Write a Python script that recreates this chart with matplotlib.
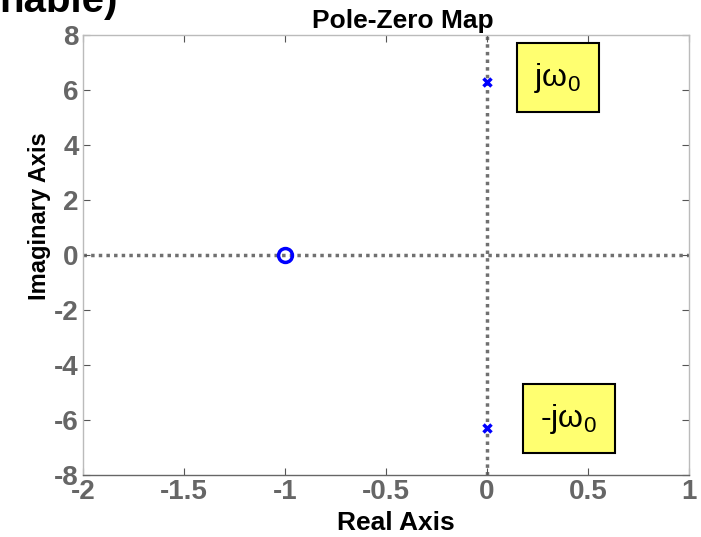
import matplotlib.pyplot as plt

# pole-zero data
zeros_re = [-1.0]
zeros_im = [0.0]
poles_re = [0.0, 0.0]
poles_im = [6.283, -6.283]

x_ticks = [-2, -1.5, -1, -0.5, 0, 0.5, 1]
x_tick_labels = ["-2", "-1.5", "-1", "-0.5", "0", "0.5", "1"]
y_ticks = [-8, -6, -4, -2, 0, 2, 4, 6, 8]

annotations = [("jω$_0$", 0.35, 6.44), ("-jω$_0$", 0.405, -5.95)]

plt.rcParams["font.family"] = ["Liberation Sans", "DejaVu Sans"]
plt.rcParams["mathtext.fontset"] = "custom"
plt.rcParams["mathtext.rm"] = "Liberation Sans"
plt.rcParams["mathtext.it"] = "Liberation Sans"
plt.rcParams["axes.unicode_minus"] = False

fig = plt.figure(figsize=(7.01, 5.37), dpi=100)
ax = fig.add_axes([83 / 701, 62 / 537, 606 / 701, 440 / 537])

ax.axhline(0, color="#707070", linestyle=(0, (1, 1.2)), linewidth=2.5, zorder=1)
ax.axvline(0, color="#707070", linestyle=(0, (1, 1.2)), linewidth=2.5, zorder=1)

ax.plot(zeros_re, zeros_im, linestyle="none", marker="o", markersize=10,
        markerfacecolor="none", markeredgecolor="blue", markeredgewidth=2.5, zorder=3)
ax.plot(poles_re, poles_im, linestyle="none", marker="x", markersize=6,
        color="blue", markeredgewidth=2.5, zorder=3)

for label, x, y in annotations:
    ax.text(x, y, label, fontsize=23, ha="center", va="center",
            bbox=dict(boxstyle="square,pad=0.55", facecolor="#ffff70",
                      edgecolor="black", linewidth=1.5))

ax.set_xlim(-2, 1)
ax.set_ylim(-8, 8)
ax.set_xticks(x_ticks)
ax.set_xticklabels(x_tick_labels)
ax.set_yticks(y_ticks)
ax.tick_params(direction="in", length=5, width=0.8, color="#555555",
               labelsize=20, labelcolor="#666666", top=True, right=True, pad=3)
for lbl in ax.get_xticklabels() + ax.get_yticklabels():
    lbl.set_fontweight("bold")
for s in ax.spines.values():
    s.set_color("#bbbbbb")
    s.set_linewidth(1)
ax.spines["bottom"].set_color("#666666")

ax.set_title("Pole-Zero Map", fontsize=19, fontweight="bold", pad=5, x=0.527)
ax.set_xlabel("Real Axis", fontsize=19, fontweight="bold", labelpad=4)
ax.xaxis.label.set_x(0.517)
ax.set_ylabel("Imaginary Axis", fontsize=17, fontweight="bold", labelpad=2)
ax.yaxis.label.set_y(0.589)

# clipped heading from the slide above the plot
fig.text(118 / 701, 1 - 12 / 537, "nable)", fontsize=29, fontweight="bold",
         va="baseline", ha="right")

fig.savefig("out.png", dpi=100)
